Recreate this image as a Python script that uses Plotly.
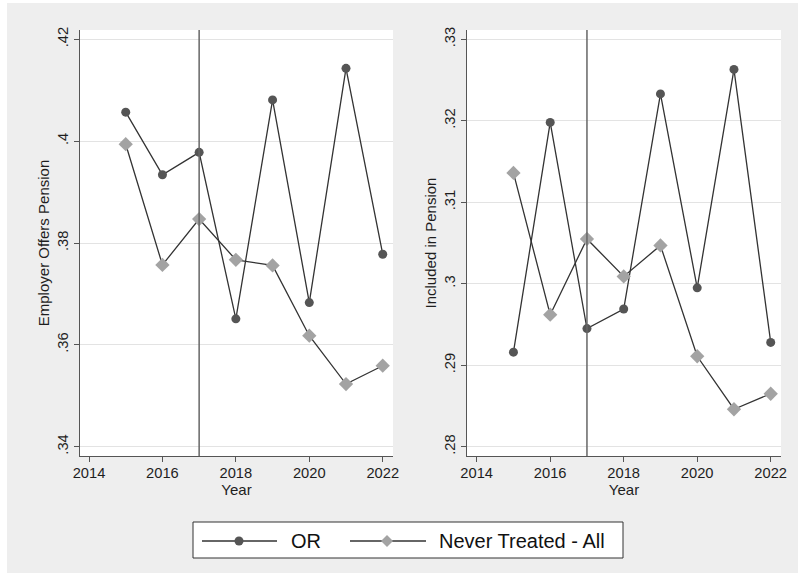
import plotly.graph_objects as go

years = [2015, 2016, 2017, 2018, 2019, 2020, 2021, 2022]

offers_or = [0.4057, 0.3934, 0.3978, 0.3651, 0.4081, 0.3683, 0.4143, 0.3778]
offers_never = [0.3994, 0.3757, 0.3847, 0.3767, 0.3756, 0.3618, 0.3523, 0.3559]

included_or = [0.2916, 0.3198, 0.2945, 0.2969, 0.3233, 0.2995, 0.3263, 0.2928]
included_never = [0.3136, 0.2962, 0.3055, 0.3009, 0.3047, 0.2911, 0.2846, 0.2865]

x_ticks = [2014, 2016, 2018, 2020, 2022]
left_ticks = [0.34, 0.36, 0.38, 0.40, 0.42]
left_labels = [".34", ".36", ".38", ".4", ".42"]
right_ticks = [0.28, 0.29, 0.30, 0.31, 0.32, 0.33]
right_labels = [".28", ".29", ".3", ".31", ".32", ".33"]
treat_year = 2017

names = ["OR", "Never Treated - All"]
line_col = "#333333"
or_col = "#555555"
never_col = "#a3a3a3"
W, H = 798, 573
FONT = "Liberation Sans, Arial, Helvetica, sans-serif"
TXT = "#1e1e1e"

fig = go.Figure()


def add_pair(xa, ya, y_or, y_never):
    fig.add_trace(go.Scatter(
        x=years, y=y_or, mode="lines+markers", name=names[0],
        line=dict(color=line_col, width=1.3),
        marker=dict(symbol="circle", size=9, color=or_col),
        xaxis=xa, yaxis=ya, showlegend=False))
    fig.add_trace(go.Scatter(
        x=years, y=y_never, mode="lines+markers", name=names[1],
        line=dict(color=line_col, width=1.3),
        marker=dict(symbol="diamond", size=11, color=never_col),
        xaxis=xa, yaxis=ya, showlegend=False))


add_pair("x", "y", offers_or, offers_never)
add_pair("x2", "y2", included_or, included_never)

axis_common = dict(
    showline=True, linecolor="#555555", linewidth=1,
    ticks="outside", ticklen=5, tickcolor="#555555", tickwidth=1,
    tickfont=dict(family=FONT, size=14.7, color=TXT),
    zeroline=False, mirror=False, automargin=False,
)

xl = dict(axis_common, tickvals=x_ticks, showgrid=False, ticklabelstandoff=-2,
          title=dict(text="Year", font=dict(family=FONT, size=15, color=TXT), standoff=0))
yl = dict(axis_common, showgrid=True, gridcolor="#e3e3e3", gridwidth=1, tickangle=-90,
          ticklabelstandoff=0)

fig.update_layout(
    width=W, height=H, autosize=False,
    margin=dict(l=0, r=0, t=0, b=0, pad=0, autoexpand=False),
    paper_bgcolor="#eeeeee", plot_bgcolor="#ffffff",
    font=dict(family=FONT, size=14, color=TXT),
    showlegend=False,
    xaxis=dict(xl, domain=[80 / W, 393 / W], range=[2013.755, 2022.28], anchor="y"),
    yaxis=dict(yl, domain=[1 - 456 / H, 1 - 30 / H], range=[0.33817, 0.42183],
               tickvals=left_ticks, ticktext=left_labels, anchor="x",
               title=dict(text="Employer Offers Pension", standoff=1,
                          font=dict(family=FONT, size=15, color=TXT))),
    xaxis2=dict(xl, domain=[467 / W, 781 / W], range=[2013.736, 2022.28], anchor="y2"),
    yaxis2=dict(yl, domain=[1 - 456 / H, 1 - 30 / H], range=[0.27886, 0.33114],
                tickvals=right_ticks, ticktext=right_labels, anchor="x2",
                title=dict(text="Included in Pension", standoff=1,
                           font=dict(family=FONT, size=15, color=TXT))),
)

# vertical treatment lines
for xr, yr in [("x", "y"), ("x2", "y2")]:
    fig.add_shape(type="line", xref=xr, yref=f"{yr} domain", x0=treat_year, x1=treat_year,
                  y0=0, y1=1, line=dict(color="#666666", width=1.5), layer="above")

# white outer strips (frame)
fig.add_shape(type="rect", xref="paper", yref="paper", x0=0, x1=7 / W, y0=0, y1=1,
              fillcolor="#ffffff", line=dict(width=0), layer="below")
fig.add_shape(type="rect", xref="paper", yref="paper", x0=0, x1=1, y0=1 - 3 / H, y1=1,
              fillcolor="#ffffff", line=dict(width=0), layer="below")


def px(x):
    return x / W


def py(y):
    return 1 - y / H


# legend (boxed key below the panels)
fig.add_shape(type="rect", xref="paper", yref="paper", x0=px(193), x1=px(623),
              y0=py(558), y1=py(522), fillcolor="#ffffff",
              line=dict(color="#333333", width=1), layer="above")
ly = 541
fig.add_shape(type="line", xref="paper", yref="paper", x0=px(202), x1=px(277),
              y0=py(ly), y1=py(ly), line=dict(color=line_col, width=1.3))
fig.add_shape(type="circle", xref="paper", yref="paper", x0=px(239 - 4.5), x1=px(239 + 4.5),
              y0=py(ly + 4.5), y1=py(ly - 4.5), fillcolor=or_col, line=dict(width=0))
fig.add_annotation(xref="paper", yref="paper", x=px(289), y=py(ly), text=names[0],
                   showarrow=False, xanchor="left", yanchor="middle",
                   font=dict(family=FONT, size=20, color="#111111"))
fig.add_shape(type="line", xref="paper", yref="paper", x0=px(350), x1=px(426),
              y0=py(ly), y1=py(ly), line=dict(color=line_col, width=1.3))
cx, r = 387, 6
fig.add_shape(type="path", xref="paper", yref="paper",
              path=f"M {px(cx - r)} {py(ly)} L {px(cx)} {py(ly - r)} L {px(cx + r)} {py(ly)} "
                   f"L {px(cx)} {py(ly + r)} Z",
              fillcolor=never_col, line=dict(width=0))
fig.add_annotation(xref="paper", yref="paper", x=px(437), y=py(ly), text=names[1],
                   showarrow=False, xanchor="left", yanchor="middle",
                   font=dict(family=FONT, size=20, color="#111111"))

fig.write_html(
    "out.html",
    config={"displayModeBar": False, "staticPlot": True, "responsive": False},
    default_width=f"{W}px", default_height=f"{H}px",
    post_script="document.body.style.margin='0';document.body.style.overflow='hidden';"
                "document.documentElement.style.overflow='hidden';",
)
